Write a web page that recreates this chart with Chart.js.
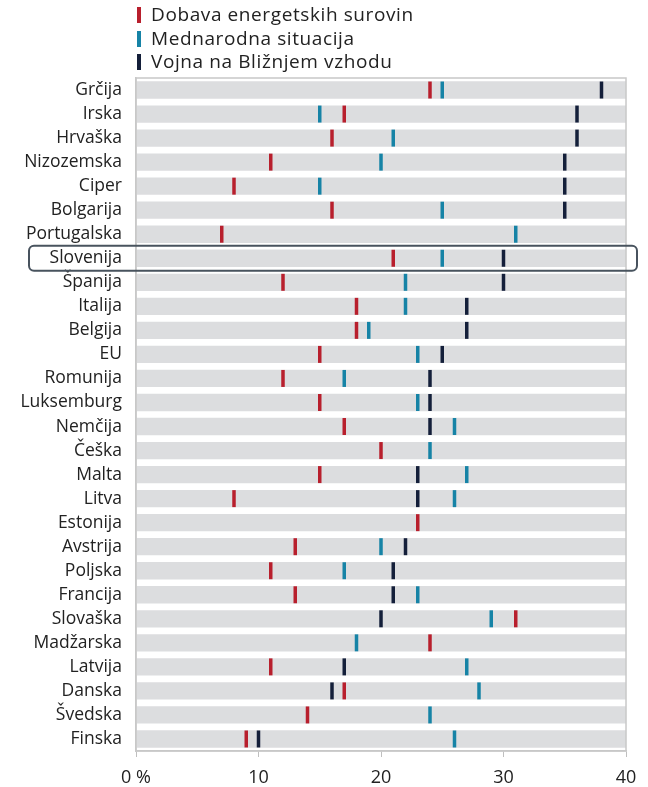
<!DOCTYPE html>
<html>
<head>
<meta charset="utf-8">
<script src="https://cdn.jsdelivr.net/npm/chart.js@4/dist/chart.umd.min.js"></script>
<style>
  html, body { margin: 0; padding: 0; background: #fff; }
  #wrap { position: relative; width: 648px; height: 787px; }
  #legend { position: absolute; left: 137px; top: 3px; font-family: "Open Sans", sans-serif; font-size: 19px; letter-spacing: 0.6px; color: #222; }
  #legend div { height: 23.5px; line-height: 23.5px; white-space: nowrap; }
  #legend span { display: inline-block; width: 4px; height: 16px; margin-right: 10px; vertical-align: -2px; }
</style>
</head>
<body>
<div id="wrap">
  <canvas id="chart" width="648" height="787"></canvas>
  <div id="legend"></div>
</div>
<script>
// countries, top to bottom
const countries = ['Grčija', 'Irska', 'Hrvaška', 'Nizozemska', 'Ciper', 'Bolgarija', 'Portugalska',
  'Slovenija', 'Španija', 'Italija', 'Belgija', 'EU', 'Romunija', 'Luksemburg', 'Nemčija', 'Češka',
  'Malta', 'Litva', 'Estonija', 'Avstrija', 'Poljska', 'Francija', 'Slovaška', 'Madžarska',
  'Latvija', 'Danska', 'Švedska', 'Finska'];

// shares in %, null where a country has no value
const dobava = [24, 17, 16, 11, 8, 16, 7, 21, 12, 18, 18, 15, 12, 15, 17, 20,
  15, 8, 23, 13, 11, 13, 31, 24, 11, 17, 14, 9];
const mednarodna = [25, 15, 21, 20, 15, 25, 31, 25, 22, 22, 19, 23, 17, 23, 26, 24,
  27, 26, null, 20, 17, 23, 29, 18, 27, 28, 24, 26];
const vojna = [38, 36, 36, 35, 35, 35, null, 30, 30, 27, 27, 25, 24, 24, 24, null,
  23, 23, null, 22, 21, 21, 20, null, 17, 16, null, 10];

const xTicks = [0, 10, 20, 30, 40];
const highlight = 'Slovenija';

const series = [
  { label: 'Dobava energetskih surovin', data: dobava, color: '#b81f2d' },
  { label: 'Mednarodna situacija', data: mednarodna, color: '#1683a6' },
  { label: 'Vojna na Bližnjem vzhodu', data: vojna, color: '#141f3a' }
];

const font = '"Open Sans", sans-serif';

// background track + markers
const datasets = [{
  type: 'bar',
  label: 'track',
  data: countries.map(() => xTicks[xTicks.length - 1]),
  backgroundColor: '#dcdddf',
  barPercentage: 0.72,
  categoryPercentage: 1,
  order: 10
}].concat(series.map(s => ({
  type: 'line',
  label: s.label,
  data: s.data,
  indexAxis: 'y',
  showLine: false,
  pointStyle: 'line',
  rotation: 90,
  pointRadius: 8.5,
  pointHoverRadius: 8.5,
  pointBorderWidth: 3.5,
  pointBorderColor: s.color,
  pointBackgroundColor: s.color,
  borderColor: s.color,
  order: 1
})));

// frame round the plot and box round one row
const frame = {
  id: 'frame',
  afterDatasetsDraw(chart) {
    const { ctx, chartArea: a, scales } = chart;
    ctx.save();
    ctx.strokeStyle = '#c8c8c8';
    ctx.lineWidth = 1.5;
    ctx.strokeRect(a.left, a.top, a.right - a.left, a.bottom - a.top);
    const y = scales.y.getPixelForValue(countries.indexOf(highlight));
    const h = (a.bottom - a.top) / countries.length;
    ctx.strokeStyle = '#48535e';
    ctx.lineWidth = 2;
    ctx.beginPath();
    ctx.roundRect(29, y - h / 2 - 0.5, 608, h + 1, 5);
    ctx.stroke();
    ctx.restore();
  }
};

new Chart(document.getElementById('chart'), {
  type: 'bar',
  data: { labels: countries, datasets },
  plugins: [frame],
  options: {
    indexAxis: 'y',
    responsive: false,
    animation: false,
    layout: { padding: { top: 78, right: 22, left: 0, bottom: 0 } },
    plugins: { legend: { display: false }, tooltip: { enabled: false } },
    scales: {
      x: {
        min: 0, max: 40,
        afterBuildTicks(scale) { scale.ticks = xTicks.map(v => ({ value: v })); },
        afterFit(scale) { scale.height = 36; },
        ticks: {
          color: '#222',
          font: { family: font, size: 18 },
          padding: 10,
          maxRotation: 0,
          callback: v => v === 0 ? '0 %' : v
        },
        grid: { drawOnChartArea: false, drawTicks: true, tickLength: 6, color: '#bfbfbf' },
        border: { color: '#c8c8c8', width: 1.5 }
      },
      y: {
        afterFit(scale) { scale.width = 136; },
        ticks: { color: '#222', font: { family: font, size: 17.5 }, padding: 14 },
        grid: { display: false, drawTicks: false, tickLength: 0 },
        border: { color: '#c8c8c8', width: 1.5 }
      }
    }
  }
});

// legend stacked at the top
document.getElementById('legend').innerHTML = series.map(s =>
  '<div><span style="background:' + s.color + '"></span>' + s.label + '</div>').join('');
</script>
</body>
</html>
